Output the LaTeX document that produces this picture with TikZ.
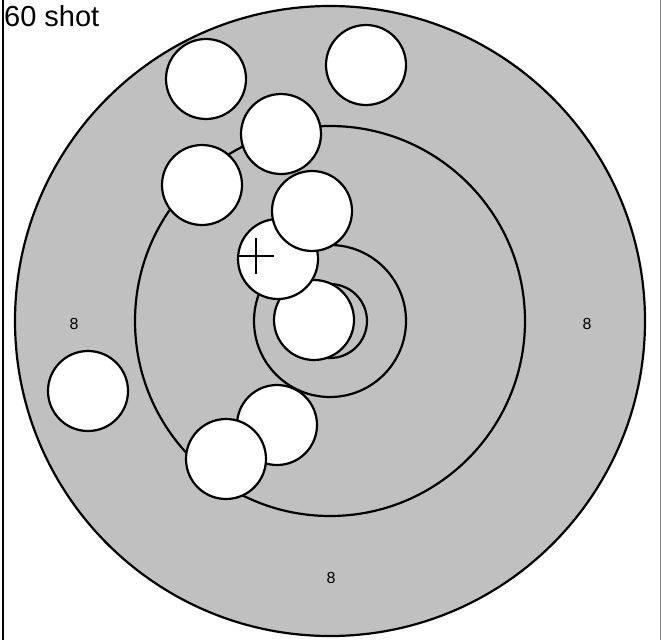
\documentclass[tikz,border=0pt]{standalone}
\usepackage{fontspec}
\setmainfont{Liberation Sans}
\usetikzlibrary{positioning}

\begin{document}
\begin{tikzpicture}[x=1pt, y=-1pt,
    ring/.style={draw, line width=2.2pt},
    shot/.style={circle, draw, line width=2.2pt, fill=white, minimum size=80pt, inner sep=0pt},
    score/.style={font=\fontsize{16}{16}\selectfont, inner sep=0pt}
  ]
    \useasboundingbox (0,0) rectangle (661,640);
    \draw[line width=2.2pt] (3,0) -- (3,640);
    \draw[gray, line width=1pt] (660,0) -- (660,640);

    % target
    \coordinate (ctr) at (330,321);
    \fill[ring, fill={rgb,255:red,192;green,192;blue,192}] (ctr) circle[radius=315];
    \draw[ring] (ctr) circle[radius=195];
    \draw[ring] (ctr) circle[radius=76];
    \draw[ring] (ctr) circle[radius=37];

    \node[score] (s1) at (74,324) {8};
    \node[score] (s2) at (587,324) {8};
    \node[score] (s3) at (331,578) {8};

    % shots
    \node[shot] (h1) at (206,79) {};
    \node[shot] (h2) at (366,65) {};
    \node[shot] (h3) at (281,134) {};
    \node[shot] (h4) at (202,185) {};
    \node[shot] (h7) at (314,320) {};
    \node[shot] (h6) at (278,259) {};
    \node[shot] (h5) at (312,211) {};
    \node[shot] (h8) at (88,391) {};
    \node[shot] (h9) at (277,425) {};
    \node[shot] (h10) at (226,459) {};

    % centre of group
    \coordinate (mark) at (256,256);
    \draw[line width=2pt] ([xshift=-18pt]mark) -- ([xshift=18pt]mark);
    \draw[line width=2pt] ([yshift=-18pt]mark) -- ([yshift=18pt]mark);

    \node[anchor=base west, inner sep=0pt, font=\fontsize{29}{29}\selectfont] (title) at (4,26) {60 shot};
  \end{tikzpicture}
\end{document}
